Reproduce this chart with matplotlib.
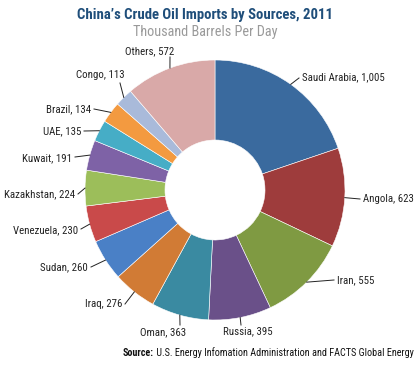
import matplotlib
matplotlib.use("Agg")
import matplotlib.pyplot as plt
import numpy as np

# data (thousand barrels per day)
countries = ["Saudi Arabia", "Angola", "Iran", "Russia", "Oman", "Iraq", "Sudan",
             "Venezuela", "Kazakhstan", "Kuwait", "UAE", "Brazil", "Congo", "Others"]
imports = [1005, 623, 555, 395, 363, 276, 260, 230, 224, 191, 135, 134, 113, 572]
value_labels = ["1,005", "623", "555", "395", "363", "276", "260",
                "230", "224", "191", "135", "134", "113", "572"]

colores = ["#3A6A9E", "#9E3C3C", "#7F9A42", "#6A5089", "#3A8AA1", "#D17B35", "#4A80C6",
           "#C94A4A", "#9CBE5A", "#7E62A6", "#46ADC6", "#F39A40", "#A9BADA", "#D9A9A8"]

# layout de las etiquetas, en pixeles (y hacia abajo): texto x, texto y, ha, fin de linea x, y
label_pos = [(302, 77, "left", 299, 78),
             (363, 199, "left", 360, 199),
             (337, 280, "left", 334, 280),
             (248, 331, "center", 241, 325),
             (163, 332, "center", 180, 325),
             (122, 304, "right", 125, 304),
             (88, 267, "right", 91, 267),
             (78, 230, "right", 81, 229),
             (75, 194, "right", 78, 194),
             (72, 158, "right", 75, 157),
             (81, 131, "right", 84, 131),
             (91, 109, "right", 94, 109),
             (100, 75, "center", 120, 83),
             (150, 51, "center", 170, 57)]

W, H = 420, 365
CX, CY, R, R_IN = 215, 190, 130, 50

plt.rcParams['font.family'] = ['Roboto Condensed', 'DejaVu Sans']

fig = plt.figure(figsize=(4.2, 3.65), dpi=100)
ax = fig.add_axes([0, 0, 1, 1])

wedges, _ = ax.pie(imports, colors=colores, startangle=90, counterclock=False,
                   radius=R, center=(CX, H - CY),
                   wedgeprops=dict(width=R - R_IN, edgecolor="white", linewidth=0.4))
ax.set_xlim(0, W)
ax.set_ylim(0, H)
ax.axis("off")

# etiquetas con linea guia desde el borde exterior
for w, name, val, (tx, ty, ha, lx, ly) in zip(wedges, countries, value_labels, label_pos):
    mid = np.deg2rad((w.theta1 + w.theta2) / 2)
    x0 = CX + R * np.cos(mid)
    y0 = (H - CY) + R * np.sin(mid)
    ax.plot([x0, lx], [y0, H - ly], color="#222222", lw=0.7)
    ax.text(tx, H - ty, f"{name}, {val}", ha=ha, va="center", fontsize=7.8, color="#222222")

ax.text(205, H - 15, "China\u2019s Crude Oil Imports by Sources, 2011", ha="center", va="center",
        fontsize=10.6, fontweight="bold", color="#1F4E7A")
ax.text(205, H - 32, "Thousand Barrels Per Day", ha="center", va="center",
        fontsize=10.3, color="#9A9A9A")

t = ax.text(123, H - 353, "Source:", ha="left", va="center", fontsize=7.3,
            fontweight="bold", color="#111111")
ax.annotate(" U.S. Energy Infomation Administration and FACTS Global Energy",
            xycoords=t, xy=(1, 0.5), va="center", ha="left", fontsize=7.3, color="#111111")

fig.savefig("out.png", dpi=100)
